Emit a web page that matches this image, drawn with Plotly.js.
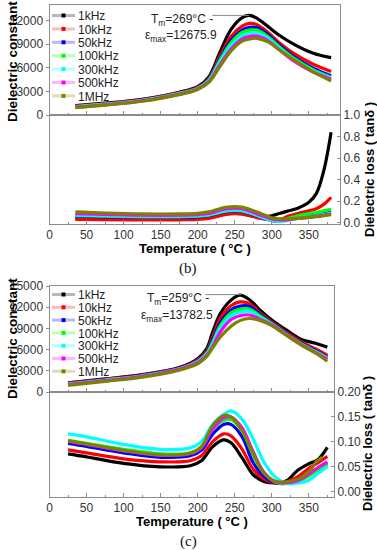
<!DOCTYPE html>
<html><head><meta charset="utf-8">
<script src="https://cdn.plot.ly/plotly-3.0.1.min.js"></script>
<style>html,body{margin:0;padding:0;background:#fff}#chart{width:377px;height:550px}</style>
</head><body><div id="chart"></div>
<script>
// ---------- data ----------
const freqNames = ['1kHz','10kHz','50kHz','100kHz','300kHz','500kHz','1MHz'];

// panel (b) dielectric constant
const Tb_eps = [35, 75, 125, 175, 200, 215, 230, 245, 260, 270, 280, 295, 310, 330, 355, 380];
const b_eps_1k   = [1200,1500,2000,2900,3600,4850,8000,10900,12400,12670,12300,11250,10150,9000,7900,7300];
const b_eps_10k  = [1150,1450,1950,2850,3500,4650,7500,10000,11300,11650,11500,10500,9200,7800,6500,5550];
const b_eps_50k  = [1100,1400,1900,2800,3450,4550,7200,9500,10800,11150,11100,10200,8900,7400,6000,5000];
const b_eps_100k = [1080,1380,1870,2750,3400,4450,7000,9200,10500,10800,10800,9950,8700,7200,5800,4800];
const b_eps_300k = [1050,1350,1840,2700,3350,4350,6700,8800,10100,10400,10450,9700,8500,7000,5650,4700];
const b_eps_500k = [1000,1300,1800,2650,3300,4250,6400,8400,9700,10000,10050,9450,8300,6850,5500,4550];
const b_eps_1M   = [950,1250,1750,2600,3250,4150,6150,8150,9400,9680,9760,9300,8300,7000,5550,4330];

// panel (b) dielectric loss
const Tb_loss = [35, 75, 125, 175, 200, 215, 230, 240, 250, 260, 270, 285, 300, 310, 320, 335, 350, 360, 370, 380];
const b_loss_1k   = [0.040,0.037,0.035,0.035,0.038,0.045,0.070,0.085,0.090,0.085,0.070,0.055,0.065,0.085,0.105,0.135,0.190,0.270,0.480,0.840];
const b_loss_10k  = [0.030,0.028,0.027,0.027,0.030,0.040,0.065,0.080,0.085,0.080,0.065,0.040,0.025,0.025,0.055,0.085,0.110,0.130,0.170,0.235];
const b_loss_50k  = [0.060,0.055,0.050,0.050,0.055,0.065,0.090,0.105,0.110,0.105,0.085,0.050,0.020,0.015,0.030,0.050,0.065,0.075,0.085,0.100];
const b_loss_100k = [0.065,0.060,0.055,0.055,0.060,0.070,0.095,0.110,0.115,0.110,0.090,0.055,0.025,0.018,0.035,0.065,0.085,0.095,0.110,0.125];
const b_loss_300k = [0.070,0.065,0.060,0.060,0.065,0.075,0.100,0.115,0.120,0.115,0.095,0.055,0.020,0.010,0.020,0.040,0.055,0.065,0.075,0.090];
const b_loss_500k = [0.085,0.078,0.070,0.070,0.075,0.085,0.115,0.130,0.135,0.130,0.110,0.070,0.035,0.025,0.025,0.040,0.050,0.060,0.070,0.080];
const b_loss_1M   = [0.100,0.090,0.082,0.082,0.087,0.100,0.130,0.145,0.150,0.145,0.125,0.085,0.045,0.035,0.035,0.040,0.050,0.055,0.065,0.075];

// panel (c) dielectric constant
const Tc_eps = [25, 75, 125, 175, 200, 212, 220, 230, 245, 257, 270, 285, 300, 320, 340, 360, 375];
const c_eps_1k   = [1300,1850,2450,3450,4700,6100,8400,11000,13000,13700,13050,11500,10200,8750,7450,6870,6350];
const c_eps_10k  = [1250,1800,2400,3400,4550,5800,7700,10300,12200,12750,12500,11100,9900,8400,7100,6050,5200];
const c_eps_50k  = [1200,1750,2350,3350,4450,5600,7300,9700,11600,12150,12100,10900,9750,8250,6900,5800,4970];
const c_eps_100k = [1150,1700,2300,3300,4350,5450,7000,9300,11200,11700,11750,10700,9650,8150,6800,5700,4830];
const c_eps_300k = [1100,1650,2250,3250,4250,5300,6700,8900,10800,11300,11400,10500,9600,8100,6750,5600,4730];
const c_eps_500k = [1050,1600,2200,3200,4150,5150,6400,8400,10250,10800,10900,10250,9500,8050,6700,5550,4640];
const c_eps_1M   = [950,1500,2100,3100,4000,5000,6200,7700,9300,10100,10400,10100,9400,8000,6650,5450,4350];

// panel (c) dielectric loss
const Tc_loss   = [25, 50, 100, 150, 190, 205, 220, 235, 245, 260, 275, 290, 305, 320, 335, 350, 362, 375];
const Tc_loss1M = [25, 50, 100, 150, 190, 205, 220, 235, 245, 260, 275, 290, 305, 320, 335, 350, 360, 368];
const c_loss_1k   = [0.076,0.070,0.057,0.050,0.052,0.062,0.090,0.104,0.098,0.068,0.034,0.020,0.018,0.022,0.043,0.056,0.064,0.089];
const c_loss_10k  = [0.084,0.078,0.066,0.060,0.062,0.072,0.100,0.116,0.112,0.085,0.045,0.025,0.017,0.020,0.030,0.047,0.058,0.071];
const c_loss_50k  = [0.097,0.091,0.078,0.069,0.072,0.083,0.115,0.135,0.135,0.110,0.058,0.030,0.018,0.017,0.024,0.037,0.047,0.058];
const c_loss_100k = [0.103,0.097,0.085,0.076,0.078,0.090,0.125,0.143,0.145,0.122,0.073,0.037,0.019,0.016,0.020,0.032,0.043,0.053];
const c_loss_300k = [0.116,0.110,0.095,0.085,0.088,0.100,0.135,0.155,0.162,0.145,0.105,0.058,0.029,0.017,0.017,0.023,0.036,0.050];
const c_loss_500k = [0.101,0.095,0.082,0.073,0.076,0.088,0.125,0.148,0.150,0.128,0.080,0.038,0.020,0.018,0.022,0.035,0.048,0.060];
const c_loss_1M   = [0.102,0.096,0.083,0.074,0.077,0.090,0.132,0.153,0.150,0.122,0.076,0.036,0.021,0.020,0.025,0.040,0.060,0.069];

// annotation values
const TmB = 269, epsMaxB = 12675.9;
const TmC = 259, epsMaxC = 13782.5;

// ---------- styling ----------
const colors = ['#000000','#ff0000','#0000ff','#00ff00','#00ffff','#ff00ff','#808000'];
const FONT = 'Liberation Sans, Arial, sans-serif';
const LINE_W = 3.2;
function pale(hex, a) {
  const n = parseInt(hex.slice(1), 16);
  return 'rgba(' + ((n >> 16) & 255) + ',' + ((n >> 8) & 255) + ',' + (n & 255) + ',' + a + ')';
}

function mk(x, y, i, xa, ya) {
  return {
    type: 'scatter', mode: 'lines', x: x, y: y, name: freqNames[i],
    xaxis: xa, yaxis: ya, showlegend: false,
    line: {color: colors[i], width: LINE_W, shape: 'spline', smoothing: 1},
    hoverinfo: 'skip'
  };
}
// legend entries (Origin-style: pale line with a solid symbol)
function legendEntry(i, xa, ya, legend) {
  return {
    type: 'scatter', mode: 'lines+markers', x: [null], y: [null], name: freqNames[i],
    xaxis: xa, yaxis: ya, legend: legend, showlegend: true,
    line: {color: pale(colors[i], 0.28), width: 3},
    marker: {color: colors[i], size: 4, symbol: 'square'},
    hoverinfo: 'skip'
  };
}

const bEps = [b_eps_1k,b_eps_10k,b_eps_50k,b_eps_100k,b_eps_300k,b_eps_500k,b_eps_1M];
const bLoss = [b_loss_1k,b_loss_10k,b_loss_50k,b_loss_100k,b_loss_300k,b_loss_500k,b_loss_1M];
const cEps = [c_eps_1k,c_eps_10k,c_eps_50k,c_eps_100k,c_eps_300k,c_eps_500k,c_eps_1M];
const cLoss = [c_loss_1k,c_loss_10k,c_loss_50k,c_loss_100k,c_loss_300k,c_loss_500k,c_loss_1M];

const traces = [];
bEps.forEach((v,i) => traces.push(mk(Tb_eps, v, i, 'x2', 'y')));
bLoss.forEach((v,i) => traces.push(mk(Tb_loss, v, i, 'x', 'y2')));
cEps.forEach((v,i) => traces.push(mk(Tc_eps, v, i, 'x4', 'y3')));
cLoss.forEach((v,i) => traces.push(mk(i === 6 ? Tc_loss1M : Tc_loss, v, i, 'x3', 'y4')));
freqNames.forEach((n,i) => traces.push(legendEntry(i, 'x2', 'y', 'legend')));
freqNames.forEach((n,i) => traces.push(legendEntry(i, 'x4', 'y3', 'legend2')));

const W = 377, H = 550;
const px = v => v / W, py = v => 1 - v / H;
const LC = '#8c8c8c';
const tickFont = {family: FONT, size: 12, color: '#333'};
const xTitleFont = {family: FONT, size: 13, color: '#000', weight: 'bold'};
const yTitleFont = {family: FONT, size: 13.5, color: '#000', weight: 'bold'};
const rTitleFont = {family: FONT, size: 13, color: '#000', weight: 'bold'};

function xAx(domain, range, anchor, labels, matches) {
  const a = {
    domain: domain, range: range, anchor: anchor, showgrid: false, zeroline: false,
    showline: true, mirror: true, linecolor: LC, linewidth: 1,
    ticks: 'inside', ticklen: 4, tickcolor: LC, dtick: 50, tick0: 0,
    minor: {ticks: 'inside', ticklen: 2, dtick: 25, tickcolor: LC},
    showticklabels: labels, tickfont: tickFont
  };
  if (matches) a.matches = matches;
  return a;
}
function yAx(domain, range, anchor, side, dtick, fmt, ticks) {
  return {
    domain: domain, range: range, anchor: anchor, side: side, showgrid: false, zeroline: false,
    showline: true, mirror: true, linecolor: LC, linewidth: 1,
    ticks: ticks, ticklen: 3, tickcolor: LC, dtick: dtick, tick0: 0, tickformat: fmt,
    tickfont: tickFont
  };
}

const annFont = {family: FONT, size: 12, color: '#222'};
const serif = {family: 'Liberation Serif, Times New Roman, serif', size: 15, color: '#111'};
function title(x, y, text, font, angle) {
  return {xref: 'paper', yref: 'paper', x: px(x), y: py(y), text: text, showarrow: false,
          textangle: angle, font: font, xanchor: 'center', yanchor: 'middle'};
}
const layout = {
  width: W, height: H, margin: {l: 0, r: 0, t: 0, b: 0},
  paper_bgcolor: '#fff', plot_bgcolor: '#fff',
  font: {family: FONT, size: 12, color: '#333'},
  xaxis:  xAx([px(49.5), px(340)], [0, 392], 'y2', true),
  xaxis2: xAx([px(49.5), px(340)], [0, 392], 'y', false, 'x'),
  yaxis:  yAx([py(115), py(5)], [0, 14000], 'x2', 'left', 3000, 'd', 'outside'),
  yaxis2: yAx([py(224), py(115)], [-0.012, 1.0], 'x', 'right', 0.2, '.1f', 'inside'),
  xaxis3: xAx([px(49.5), px(334)], [0, 384], 'y4', true),
  xaxis4: xAx([px(49.5), px(334)], [0, 384], 'y3', false, 'x3'),
  yaxis3: yAx([py(392), py(286)], [0, 15000], 'x4', 'left', 3000, 'd', 'outside'),
  yaxis4: yAx([py(496.5), py(392)], [-0.0096, 0.2], 'x3', 'right', 0.05, '.2f', 'inside'),
  legend:  {x: px(38), y: py(1), xanchor: 'left', yanchor: 'top', bgcolor: 'rgba(0,0,0,0)', borderwidth: 0,
            font: {family: FONT, size: 12, color: '#222'}, tracegroupgap: 0, itemwidth: 30},
  legend2: {x: px(38), y: py(280), xanchor: 'left', yanchor: 'top', bgcolor: 'rgba(0,0,0,0)', borderwidth: 0,
            font: {family: FONT, size: 12, color: '#222'}, tracegroupgap: 0, itemwidth: 30},
  annotations: [
    // axis titles
    title(12, 62, 'Dielectric constant', yTitleFont, -90),
    title(369, 170, 'Dielectric loss ( tanδ )', rTitleFont, -90),
    title(195, 248.5, 'Temperature ( °C )', xTitleFont, 0),
    title(12, 339, 'Dielectric constant', yTitleFont, -90),
    title(367, 444, 'Dielectric loss ( tanδ )', rTitleFont, -90),
    title(192, 521, 'Temperature ( °C )', xTitleFont, 0),
    // Tm markers: leader line to the peak + label
    {xref: 'x2', yref: 'y', x: TmB, y: epsMaxB, text: '', showarrow: true, arrowhead: 0,
     arrowwidth: 1, arrowcolor: '#8c8c8c', ax: -38, ay: 0},
    title(182, 20.5, 'T<sub>m</sub>=' + TmB + '°C -', annFont, 0),
    title(181, 36, 'ε<sub>max</sub>=' + epsMaxB, annFont, 0),
    {xref: 'x4', yref: 'y3', x: TmC, y: epsMaxC, text: '', showarrow: true, arrowhead: 0,
     arrowwidth: 1, arrowcolor: '#8c8c8c', ax: -38, ay: 0},
    title(178, 298.5, 'T<sub>m</sub>=' + TmC + '°C -', annFont, 0),
    title(177, 315.5, 'ε<sub>max</sub>=' + epsMaxC, annFont, 0),
    // panel labels
    title(188, 268.5, '(b)', serif, 0),
    title(188, 541.5, '(c)', serif, 0)
  ]
};

const gd = document.getElementById('chart');
function fixLegends() {
  const steps = {legend: 13.4, legend2: 12.8};
  Object.keys(steps).forEach(cls => {
    const leg = gd.querySelector('g.' + cls);
    if (!leg) return;
    const step = steps[cls];
    let y0 = null;
    leg.querySelectorAll('g.traces').forEach((it, i) => {
      const m = /translate\(([-\d.e]+)[ ,]+([-\d.e]+)\)/.exec(it.getAttribute('transform') || '');
      if (!m) return;
      if (y0 === null) y0 = parseFloat(m[2]);
      it.setAttribute('transform', 'translate(' + m[1] + ',' + (y0 + i * step) + ')');
      // shorten the sample line and centre the symbol on it
      it.querySelectorAll('path').forEach(p => {
        const cl = p.getAttribute('class') || '';
        if (cl.indexOf('js-line') >= 0) {
          p.setAttribute('d', 'M14,0h23');
        } else if (cl.indexOf('scatterpts') >= 0) {
          p.setAttribute('transform', 'translate(25.5,0)');
        }
      });
    });
  });
}
Plotly.newPlot(gd, traces, layout, {displayModeBar: false, staticPlot: true}).then(() => {
  fixLegends();
  gd.on('plotly_afterplot', fixLegends);
  setTimeout(fixLegends, 50);
});
</script>
</body></html>
